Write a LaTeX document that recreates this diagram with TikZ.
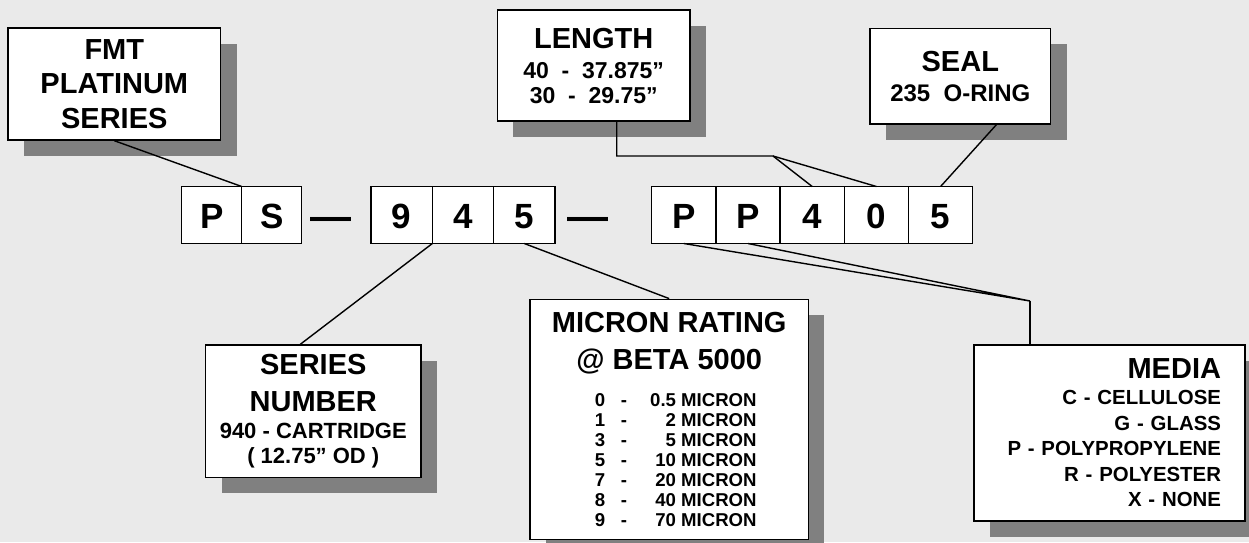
\documentclass[tikz,border=0pt]{standalone}
\usepackage{fontspec}
\setmainfont{Liberation Sans}
\usetikzlibrary{
    positioning,
    calc,
    shadows
}

\definecolor{bggray}{HTML}{EAEAEA}
\definecolor{shadegray}{HTML}{808080}

\newcommand\boxfont[2]{\bfseries\fontsize{#1}{#2}\selectfont\lineskiplimit=-100pt\relax}
\newcommand\subsize[1]{\fontsize{#1}{#1}\selectfont}
\newcommand\micronrow[2]{\makebox[13pt][l]{#1}\makebox[8pt][l]{-}\makebox[59.85pt][r]{#2 MICRON}}

\tikzset{
    cell/.style={draw, fill=white, line width=0.7pt, outer sep=0pt, inner sep=0pt,
        text height=13.8pt, text depth=0pt,
        minimum width=#1, minimum height=28.5pt, font=\bfseries\fontsize{17.5}{20}\selectfont},
    callout/.style={draw, fill=white, line width=0.7pt, align=center, inner sep=2pt,
        drop shadow={shadow xshift=8pt, shadow yshift=-8pt, fill=shadegray, opacity=1}},
    dashmark/.style={anchor=base, inner sep=0pt, font=\bfseries\fontsize{20.5}{20}\selectfont},
    link/.style={line width=0.7pt}
}

\begin{document}
\begin{tikzpicture}[x=0.5pt,y=-0.5pt]

% Canvas
\useasboundingbox (0,0) rectangle (1249,542);
\fill[bggray] (0,0) rectangle (1249,542);

% Part number cells
\node[cell=30pt] (p1) at (211.7,215) {P};
\node[cell=30pt, right=0pt of p1] (p2) {S};

\node[dashmark] (d1) at (330.5,230) {—};

\node[cell=30.65pt] (s1) at (401.7,215) {9};
\node[cell=30.65pt, right=0pt of s1] (s2) {4};
\node[cell=30.65pt, right=0pt of s2] (s3) {5};

\node[dashmark] (d2) at (588,230) {—};

\node[cell=32.1pt] (m1) at (683.8,215) {P};
\node[cell=32.1pt, right=0pt of m1] (m2) {P};
\node[cell=32.1pt, right=0pt of m2] (m3) {4};
\node[cell=32.1pt, right=0pt of m3] (m4) {0};
\node[cell=32.1pt, right=0pt of m4] (m5) {5};

% Callout boxes
\node[callout, minimum width=106.4pt, minimum height=56pt,
    font=\boxfont{14.5}{17.25}] (fmtbox) at (114.3,84)
    {FMT\\PLATINUM\\SERIES};

\node[callout, minimum width=96.4pt, minimum height=55.5pt,
    font=\boxfont{14.5}{12.5}] (lenbox) at (593.7,65.5)
    {LENGTH\\[2.5pt]
     \subsize{11.5}40~~-~~37.875”\\
     \subsize{11.5}30~~-~~29.75”};

\node[callout, minimum width=90.4pt, minimum height=47.9pt,
    font=\boxfont{14.5}{15}] (sealbox) at (960.3,76.2)
    {SEAL\\ \subsize{12}235~~O-RING};

\node[callout, minimum width=107.7pt, minimum height=66.2pt,
    font=\boxfont{14.5}{12.5}] (serbox) at (313.3,411.2)
    {SERIES\\[5.85pt]NUMBER\\[1.35pt]
     \subsize{11}940 - CARTRIDGE\\
     \subsize{11}( 12.75” OD )};

\node[callout, minimum width=139.2pt, minimum height=120pt,
    font=\boxfont{14.5}{10}] (micbox) at (669.2,419.3)
    {MICRON RATING\\[8.35pt]@ BETA 5000\\[8.35pt]
     \subsize{9.3}\hspace*{6.6pt}\micronrow{0}{0.5}\\
     \subsize{9.3}\hspace*{6.6pt}\micronrow{1}{2}\\
     \subsize{9.3}\hspace*{6.6pt}\micronrow{3}{5}\\
     \subsize{9.3}\hspace*{6.6pt}\micronrow{5}{10}\\
     \subsize{9.3}\hspace*{6.6pt}\micronrow{7}{20}\\
     \subsize{9.3}\hspace*{6.6pt}\micronrow{8}{40}\\
     \subsize{9.3}\hspace*{6.6pt}\micronrow{9}{70}};

\node[callout, align=right, text width=111.5pt, inner xsep=12pt, minimum height=88pt,
    font=\boxfont{10.2}{12.8}] (medbox) at (1109.5,433)
    {{\fontsize{14.5}{12.8}\selectfont MEDIA}\\
     C - CELLULOSE\\
     G - GLASS\\
     P - POLYPROPYLENE\\
     R - POLYESTER\\
     X - NONE};

% Connectors
\draw[link] (fmtbox.south) -- (p1.north east);
\draw[link] ($(serbox.north)+(-13,0)$) -- (s1.south east);
\draw[link] (s3.south) -- (micbox.north);

\coordinate (lenj) at (773,156);
\draw[link] ($(lenbox.south)+(23,0)$) |- (lenj) -- (m3.north);
\draw[link] (lenj) -- (m4.north);

\draw[link] ($(sealbox.south)+(36,0)$) -- (m5.north);

\coordinate (medj) at (1030,301);
\draw[link] (m1.south) -- (medj) -- (m2.south);
\draw[link] (medj) -- (medj |- medbox.north);

\end{tikzpicture}
\end{document}
